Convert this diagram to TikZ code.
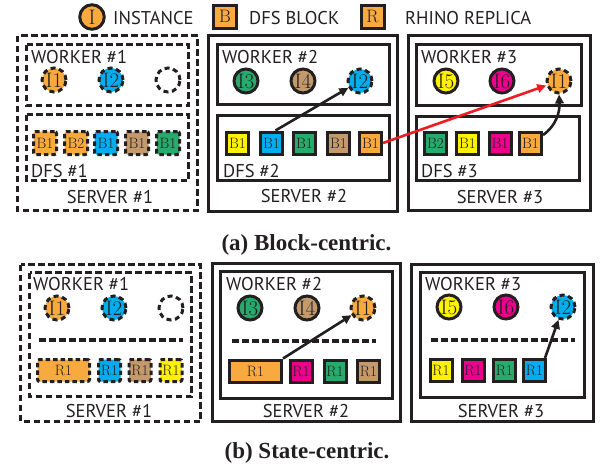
\documentclass[tikz,border=0pt]{standalone}
\usepackage{fontspec}
\setsansfont{PT Sans}
\newfontfamily\capfont{Liberation Serif}
\usetikzlibrary{arrows.meta}
\definecolor{ink}{HTML}{231F20}
\definecolor{corange}{HTML}{F9AA3E}
\definecolor{ccyan}{HTML}{00AEEF}
\definecolor{cgreen}{HTML}{27AA6C}
\definecolor{cbrown}{HTML}{C49A6C}
\definecolor{cyellow}{HTML}{FFF200}
\definecolor{cpink}{HTML}{EC008C}
\definecolor{cred}{HTML}{ED1C24}
\begin{document}
\begin{tikzpicture}[x=1pt,y=-1pt,
  lbl/.style={font=\sffamily\fontsize{18.5}{20}\selectfont, text=ink, inner sep=0pt},
  box/.style={draw=ink, line width=3.4pt},
  dbox/.style={box, dash pattern=on 6.5pt off 3.5pt},
  inst/.style={circle, draw=ink, line width=3pt, minimum size=24pt, inner sep=0pt,
    font=\fontsize{21}{22}\selectfont, text=ink},
  dinst/.style={inst, dash pattern=on 5pt off 3.6pt},
  blk/.style={rectangle, draw=ink, line width=3pt, minimum width=22pt, minimum height=22pt,
    inner sep=0pt, font=\fontsize{15}{16}\selectfont, text=ink},
  dblk/.style={blk, rounded corners=2pt, dash pattern=on 4.5pt off 3pt},
  arr/.style={draw=ink, line width=2.6pt, -{Triangle[length=9pt,width=8.5pt]}},
  captxt/.style={font=\capfont\bfseries\fontsize{23}{25}\selectfont, text=ink, inner sep=0pt},
]
\useasboundingbox (0,0) rectangle (600,469);

% ---------- legend ----------
\node[inst, fill=corange, minimum size=24.5pt] (lgi) at (92,17) {I};
\node[lbl, anchor=base west] (lgit) at (113,24) {INSTANCE};
\node[blk, fill=corange, minimum width=23pt, minimum height=23pt,
      font=\fontsize{18}{18}\selectfont] (lgb) at (225,16.5) {B};
\node[lbl, anchor=base west] (lgbt) at (249,24) {DFS BLOCK};
\node[blk, fill=corange, minimum width=23pt, minimum height=23pt,
      font=\fontsize{18}{18}\selectfont] (lgr) at (372.5,16.5) {R};
\node[lbl, anchor=base west] (lgrt) at (405,24) {RHINO REPLICA};

% ---------- (a) block-centric ----------
% server #1 (dashed)
\draw[dbox] (17.5,35.5) rectangle (197.5,210.5);
\draw[dbox] (26.5,44.5) rectangle (188.5,105.5);
\draw[dbox] (26.5,114.5) rectangle (188.5,180.5);
\node[lbl, anchor=base west] (aw1) at (31,63) {WORKER \#1};
\node[lbl, anchor=base west] (ad1) at (31,177) {DFS \#1};
\node[lbl, anchor=base] (as1) at (110,203) {SERVER \#1};
\node[dinst, fill=corange] (a1i1) at (54,80) {I1};
\node[dinst, fill=ccyan] (a1i2) at (111,80) {I2};
\node[dinst] (a1e) at (168,80) {};
\node[dblk, fill=corange, minimum width=23pt, minimum height=23pt] (a1b1) at (45,143) {B1};
\node[dblk, fill=corange, minimum width=23pt, minimum height=23pt] (a1b2) at (76,143) {B2};
\node[dblk, fill=ccyan, minimum width=23pt, minimum height=23pt] (a1b3) at (106,143) {B1};
\node[dblk, fill=cbrown, minimum width=23pt, minimum height=23pt] (a1b4) at (137,143) {B1};
\node[dblk, fill=cgreen, minimum width=23pt, minimum height=23pt] (a1b5) at (168,143) {B1};

% server #2
\draw[box] (208.5,35.5) rectangle (397.5,211.5);
\draw[box] (217.5,44.5) rectangle (389.5,104.5);
\draw[box] (217.5,115.5) rectangle (389.5,180.5);
\node[lbl, anchor=base west] (aw2) at (222,63) {WORKER \#2};
\node[lbl, anchor=base west] (ad2) at (223,177) {DFS \#2};
\node[lbl, anchor=base] (as2) at (304,202) {SERVER \#2};
\node[inst, fill=cgreen] (a2i3) at (246,81) {I3};
\node[inst, fill=cbrown] (a2i4) at (303,81) {I4};
\node[dinst, fill=ccyan] (a2i2) at (360,81) {I2};
\node[blk, fill=cyellow] (a2b1) at (237.5,143) {B1};
\node[blk, fill=ccyan] (a2b2) at (271.5,143) {B1};
\node[blk, fill=cgreen] (a2b3) at (304.5,143) {B1};
\node[blk, fill=cbrown] (a2b4) at (338.5,143) {B1};
\node[blk, fill=corange] (a2b5) at (370.5,143) {B1};

% server #3
\draw[box] (408.5,35.5) rectangle (590.5,210.5);
\draw[box] (416.5,44.5) rectangle (581.5,105.5);
\draw[box] (416.5,116.5) rectangle (579.5,180.5);
\node[lbl, anchor=base west] (aw3) at (421,63) {WORKER \#3};
\node[lbl, anchor=base west] (ad3) at (421,177) {DFS \#3};
\node[lbl, anchor=base] (as3) at (500,203) {SERVER \#3};
\node[inst, fill=cyellow] (a3i5) at (446,81) {I5};
\node[inst, fill=cpink] (a3i6) at (502,81) {I6};
\node[dinst, fill=corange] (a3i1) at (559,81) {I1};
\node[blk, fill=cgreen] (a3b1) at (435.5,143.5) {B2};
\node[blk, fill=cyellow] (a3b2) at (467.5,143.5) {B1};
\node[blk, fill=cpink] (a3b3) at (500,143.5) {B1};
\node[blk, fill=corange] (a3b4) at (530.5,143.5) {B1};

% block reads
\draw[arr] ([xshift=4pt]a2b2.north) -- (a2i2);
\draw[arr, draw=cred] (a2b5.east) -- (a3i1);
\draw[arr] ([yshift=-4pt]a3b4.north east) .. controls (556,126) and (560,112) .. (a3i1.south);

\node[captxt, anchor=base] (capa) at (306.5,250) {(a) Block-centric.};

% ---------- (b) state-centric ----------
% server #1 (dashed)
\draw[dbox] (20.5,264.5) rectangle (200.5,421.5);
\draw[dbox] (29.5,272.5) rectangle (191.5,396.5);
\node[lbl, anchor=base west] (bw1) at (33,290) {WORKER \#1};
\node[lbl, anchor=base] (bs1) at (109,417) {SERVER \#1};
\node[dinst, fill=corange] (b1i1) at (57,308) {I1};
\node[dinst, fill=ccyan] (b1i2) at (114,308) {I2};
\node[dinst] (b1e) at (171,308) {};
\draw[dbox] (39,340) -- (183,340);
\node[dblk, fill=corange, minimum width=52pt] (b1r1) at (63.5,370.5) {R1};
\node[dblk, fill=ccyan] (b1r2) at (109.5,370.5) {R1};
\node[dblk, fill=cbrown] (b1r3) at (140,370.5) {R1};
\node[dblk, fill=cyellow] (b1r4) at (171,370.5) {R1};

% server #2
\draw[box] (212.5,263.5) rectangle (400.5,421.5);
\draw[box] (220.5,271.5) rectangle (392.5,398.5);
\node[lbl, anchor=base west] (bw2) at (226,290) {WORKER \#2};
\node[lbl, anchor=base] (bs2) at (306,417) {SERVER \#2};
\node[inst, fill=cgreen] (b2i3) at (250,308) {I3};
\node[inst, fill=cbrown] (b2i4) at (307,308) {I4};
\node[dinst, fill=corange] (b2i1) at (363,308) {I1};
\draw[dbox] (232,341) -- (376,341);
\node[blk, fill=corange, minimum width=52pt] (b2r1) at (255.5,371) {R1};
\node[blk, fill=cpink] (b2r2) at (301,371) {R1};
\node[blk, fill=cgreen] (b2r3) at (335,371) {R1};
\node[blk, fill=cbrown] (b2r4) at (368.5,371) {R1};

% server #3
\draw[box] (411.5,264.5) rectangle (593.5,421.5);
\draw[box] (420.5,272.5) rectangle (584.5,397.5);
\node[lbl, anchor=base west] (bw3) at (425,290) {WORKER \#3};
\node[lbl, anchor=base] (bs3) at (501,417) {SERVER \#3};
\node[inst, fill=cyellow] (b3i5) at (449,307) {I5};
\node[inst, fill=cpink] (b3i6) at (506,307) {I6};
\node[dinst, fill=ccyan] (b3i2) at (563,307) {I2};
\draw[dbox] (431,340) -- (575,340);
\node[blk, fill=cyellow] (b3r1) at (441,370.5) {R1};
\node[blk, fill=cpink] (b3r2) at (473,370.5) {R1};
\node[blk, fill=cgreen] (b3r3) at (504.5,370.5) {R1};
\node[blk, fill=ccyan] (b3r4) at (534.5,370.5) {R1};

% replica reads
\draw[arr] (b2r1.north east) -- (b2i1);
\draw[arr] ([xshift=-2pt]b3r4.north east) -- (b3i2);

\node[captxt, anchor=base] (capb) at (307,458) {(b) State-centric.};
\end{tikzpicture}
\end{document}
